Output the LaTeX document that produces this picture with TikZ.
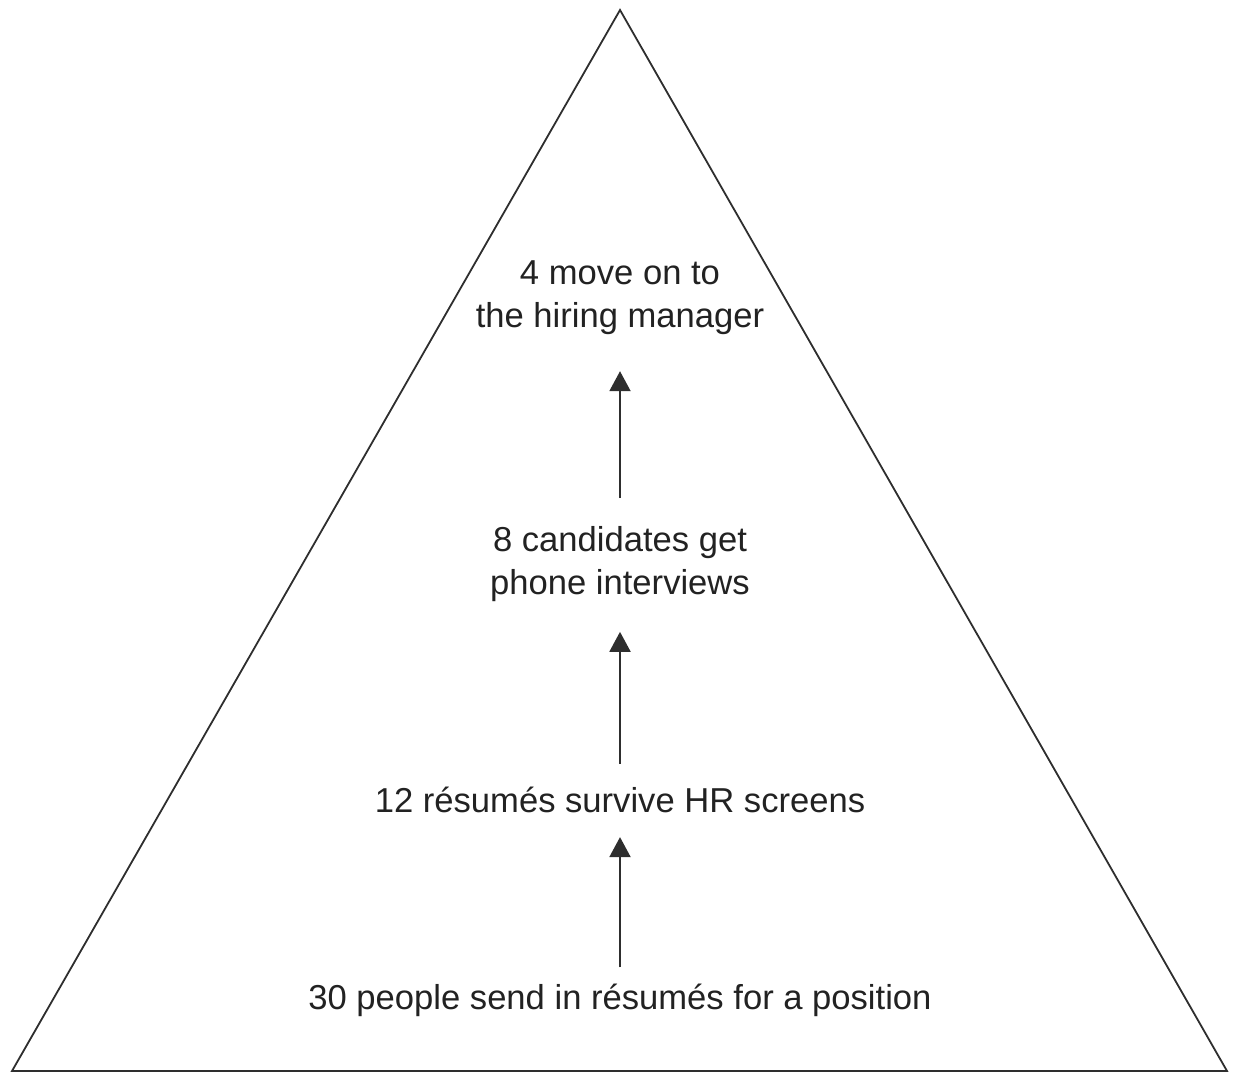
\documentclass[tikz,border=0pt]{standalone}
\usepackage{fontspec}
\setmainfont{Liberation Sans}
\usetikzlibrary{arrows.meta}
\definecolor{inkline}{HTML}{2E2E2E}
\definecolor{inktext}{HTML}{222222}
\begin{document}
\begin{tikzpicture}[x=1pt,y=-1pt,
  stage/.style={inner sep=0pt, align=center, text=inktext,
    font=\fontsize{34.6}{43}\selectfont},
  upflow/.style={draw=inkline, line width=2pt,
    -{Triangle[length=20pt,width=21pt]}}]
\useasboundingbox (0,0) rectangle (1233,1074);
% the pyramid
\draw[inkline, line width=1.8pt, line join=miter]
  (620,10) -- (1227,1071) -- (12,1071) -- cycle;
% the four stages
\node[stage] (hire)  at (620,298) {4 move on to\\the hiring manager};
\node[stage] (phone) at (620,564) {8 candidates get\\phone interviews};
\node[stage] (hr)    at (620,800) {12 résumés survive HR screens};
\node[stage] (apply) at (620,1000) {30 people send in résumés for a position};
% progression between stages
\draw[upflow, shorten <=16pt, shorten >=24pt] (apply.north) -- (hr.south);
\draw[upflow, shorten <=23pt, shorten >=30pt] (hr.north) -- (phone.south);
\draw[upflow, shorten <=28pt, shorten >=36pt] (phone.north) -- (hire.south);
\end{tikzpicture}
\end{document}
